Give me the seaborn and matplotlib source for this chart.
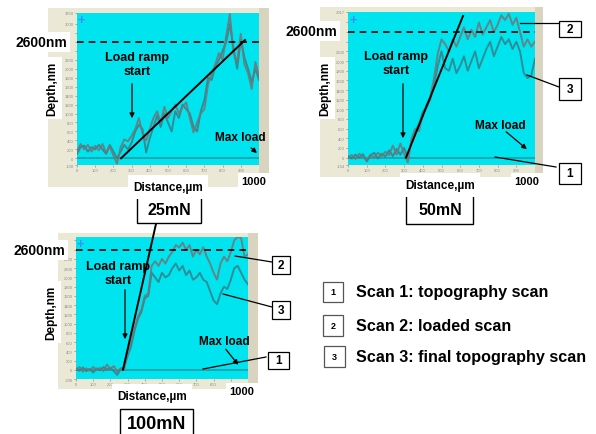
import matplotlib
matplotlib.use("Agg")
import matplotlib.pyplot as plt
import seaborn as sns
from matplotlib.patches import Rectangle

plt.rcParams['font.family'] = ['Liberation Sans', 'DejaVu Sans']

W, H = 596, 435

# ---------------- data ----------------
x_grid = list(range(0, 1001, 20))

p1_scan2 = [150, 320, 200, 300, 150, 280, 180, 320, 120, 260, 60, -120, 250, 420, 380, 500,
            650, 900, 550, 400, 650, 900, 1050, 800, 1150, 900, 1050, 1200, 1000, 1150, 1250,
            900, 580, 800, 1000, 1100, 1650, 1900, 2100, 2350, 2200, 2750, 3220, 2350, 2150,
            2780, 2100, 1900, 1550, 2150, 1850]
p1_scan3 = [100, 250, 280, 150, 250, 200, 300, 200, 100, 300, 150, 0, 150, 300, 200, 350,
            600, 750, 650, 130, 450, 700, 950, 700, 1000, 800, 600, 1050, 900, 1200, 1100,
            1000, 700, 600, 1050, 1300, 1800, 1750, 2050, 2200, 2400, 2600, 3000, 2450, 2000,
            2650, 2250, 2000, 1700, 2000, 1750]

p2_scan2 = [0, 50, -30, 80, 20, -60, 60, 0, 100, 30, 120, 50, 250, 60, 290, 80, -100, 400,
            600, 550, 900, 1100, 1250, 1650, 2150, 2450, 2350, 2200, 2450, 2300, 2500, 2700,
            2450, 2650, 2500, 2800, 2550, 2700, 2850, 2600, 2750, 2950, 2850, 2980, 2750, 2900,
            2600, 2300, 2450, 2300, 2400]
p2_scan3 = [30, -20, 60, 0, 70, -80, 40, 100, -20, 80, 20, 150, 30, 180, 60, 200, 0, 350,
            550, 700, 950, 1050, 1200, 1500, 1900, 2200, 1850, 1800, 2050, 1750, 1900, 2100,
            1800, 2000, 2200, 1850, 2050, 2250, 2400, 2100, 2300, 2500, 2350, 2450, 2250, 2400,
            2200, 1750, 1650, 1700, 2050]

p3_scan2 = [0, 60, -40, 30, -20, 60, 0, 40, -30, 110, 20, 80, -50, 30, 0, 400, 600, 900,
            1150, 1300, 1600, 1650, 2250, 2350, 2250, 2400, 2300, 2450, 2550, 2700, 2650, 2750,
            2600, 2700, 2450, 2600, 2500, 2650, 2450, 2300, 2100, 1950, 2300, 2450, 2350, 2550,
            2800, 2880, 2850, 2450, 2500]
p3_scan3 = [30, -20, 50, -30, 20, -60, 30, -10, 60, 0, 40, -30, -110, 20, 50, 300, 500, 850,
            1100, 1250, 1550, 1600, 2100, 2000, 1900, 2100, 2000, 2050, 2200, 2300, 2150, 2250,
            2050, 2150, 1950, 2000, 2100, 1950, 1900, 1700, 1500, 1420, 1650, 1800, 1750, 1950,
            2200, 2250, 2100, 1950, 1850]

scan1_x = [0, 1000]
scan1_y = [0, 0]

# load ramp reference lines (start and end points)
ramp1_x, ramp1_y = [242, 923], [0, 2642]
ramp2_x, ramp2_y = [310, 615], [0, 2935]
ramp3_x, ramp3_y = [273, 465], [0, 3157]

x_ticks = list(range(0, 1000, 100))
p1_ylim, p1_yticks = (-150, 3250), [-150] + list(range(0, 3001, 200)) + [3250]
p2_ylim, p2_yticks = (-154, 3017), [-154] + list(range(0, 2801, 200)) + [3017]
p3_ylim, p3_yticks = (-200, 2875), [-200] + list(range(0, 2801, 200))
# tick labels hidden behind the "2600nm" label in the original
p1_hidden = [2400, 2600, 2800]
p2_hidden = [2400, 2600, 2800]
p3_hidden = [2600, 2800]

forces = ["25mN", "50mN", "100mN"]
legend_labels = ["Scan 1: topography scan", "Scan 2: loaded scan", "Scan 3: final topography scan"]

# ---------------- figure ----------------
fig = plt.figure(figsize=(W / 100, H / 100), dpi=100)


def box(x0, y0, x1, y1):
    return [x0 / W, 1 - y1 / H, (x1 - x0) / W, (y1 - y0) / H]


bg = fig.add_axes([0, 0, 1, 1], zorder=-1)
bg.set_xlim(0, W); bg.set_ylim(H, 0); bg.axis('off')
ov = fig.add_axes([0, 0, 1, 1], zorder=5)
ov.set_xlim(0, W); ov.set_ylim(H, 0); ov.axis('off'); ov.patch.set_alpha(0)

beige = "#ebe8d6"
strip = "#d8d4bf"
frames = [(48, 9, 269, 188, 259), (320, 8, 543, 178, 535), (58, 234, 258, 390, 248)]
for fx0, fy0, fx1, fy1, sx in frames:
    bg.add_patch(Rectangle((fx0, fy0), fx1 - fx0, fy1 - fy0, facecolor=beige, edgecolor='none'))
    bg.add_patch(Rectangle((sx, fy0), fx1 - sx, fy1 - fy0, facecolor=strip, edgecolor='none'))

cyan = "#00e4f0"
c2 = "#6f7777"
c3 = "#357f86"
c1 = "#1ea2ab"

panels = [
    (box(77, 13.8, 259, 166), p1_scan2, p1_scan3, ramp1_x, ramp1_y, p1_ylim, p1_yticks, p1_hidden),
    (box(348, 13, 535, 166), p2_scan2, p2_scan3, ramp2_x, ramp2_y, p2_ylim, p2_yticks, p2_hidden),
    (box(76, 238, 248, 380), p3_scan2, p3_scan3, ramp3_x, ramp3_y, p3_ylim, p3_yticks, p3_hidden),
]
axes = []
for pos, s2, s3, rx, ry, ylim, yt, hid in panels:
    ax = fig.add_axes(pos, zorder=1)
    ax.set_facecolor(cyan)
    sns.lineplot(x=scan1_x, y=scan1_y, ax=ax, color=c1, linewidth=1.3)
    sns.lineplot(x=x_grid, y=s3, ax=ax, color=c3, linewidth=1.4, alpha=0.85)
    sns.lineplot(x=x_grid, y=s2, ax=ax, color=c2, linewidth=1.4, alpha=0.85)
    ax.axhline(2600, color='black', linestyle='--', linewidth=1.2, dashes=(4, 3))
    ax.plot(rx, ry, color='black', linewidth=1.4, clip_on=False)
    ax.set_xlim(0, 1000)
    ax.set_ylim(*ylim)
    ax.set_xticks(x_ticks)
    ax.set_xticklabels([str(v) for v in x_ticks])
    ax.set_yticks(yt)
    ax.set_yticklabels(["" if v in hid else str(v) for v in yt])
    ax.tick_params(labelsize=3, colors='#8c8c8c', length=1.5, width=0.5, pad=1)
    for s in ax.spines.values():
        s.set_visible(False)
    ax.set_xlabel(""); ax.set_ylabel("")
    ax.text(0.025, 0.95, "+", transform=ax.transAxes, color="#3a8ff0", fontsize=9,
            ha='center', va='center', fontweight='bold')
    axes.append(ax)

wb = dict(facecolor='white', edgecolor='none', pad=2.5)
bold = dict(fontweight='bold', color='black')

# text per panel: 2600nm, Depth, Load ramp, Max load, Distance, 1000, force box
texts = [
    dict(nm=(41, 43), dep=(52, 89), load=(137, 65), arr_load=((132, 82), (132, 122)),
         maxl=(240, 138), arr_max=((249, 147), (259, 156)), dist=(168, 188), k=(254, 182),
         fbox=(137, 197, 201, 224), ftxt=(169, 211), fsize=11.5),
    dict(nm=(311, 32), dep=(325, 89), load=(396, 64), arr_load=((403, 82), (403, 142)),
         maxl=(500, 126), arr_max=((504, 131), (529, 152)), dist=(440, 186), k=(527, 182),
         fbox=(406, 195, 473, 225), ftxt=(440, 211), fsize=11.5),
    dict(nm=(39, 251), dep=(51, 313), load=(118, 274), arr_load=((125, 288), (125, 343)),
         maxl=(224, 342), arr_max=((224, 348), (240, 368)), dist=(152, 397), k=(242, 392),
         fbox=(120, 410, 193, 436), ftxt=(157, 425), fsize=13),
]
for t, f in zip(texts, forces):
    ov.text(*t['nm'], "2600nm", fontsize=10, ha='center', va='center', bbox=wb, **bold)
    ov.text(*t['dep'], "Depth,nm", fontsize=8.5, rotation=90, ha='center', va='center',
            bbox=dict(facecolor='white', edgecolor='none', pad=3), **bold)
    ov.text(*t['load'], "Load ramp\nstart", fontsize=9, ha='center', va='center',
            linespacing=1.15, **bold)
    ov.annotate("", xy=t['arr_load'][1], xytext=t['arr_load'][0],
                arrowprops=dict(arrowstyle='-|>', color='black', lw=0.9, mutation_scale=7))
    ov.text(*t['maxl'], "Max load", fontsize=8.5, ha='center', va='center', **bold)
    ov.annotate("", xy=t['arr_max'][1], xytext=t['arr_max'][0],
                arrowprops=dict(arrowstyle='-|>', color='black', lw=0.9, mutation_scale=7))
    ov.text(*t['dist'], "Distance,µm", fontsize=8.5, ha='center', va='center',
            bbox=dict(facecolor='white', edgecolor='none', pad=4), **bold)
    ov.text(*t['k'], "1000", fontsize=8, ha='center', va='center', bbox=wb, **bold)
    x0, y0, x1, y1 = t['fbox']
    ov.add_patch(Rectangle((x0, y0), x1 - x0, y1 - y0, facecolor='white', edgecolor='black',
                           linewidth=1.0, clip_on=False))
    ov.text(*t['ftxt'], f, fontsize=t['fsize'], ha='center', va='center', **bold)

# numbered label boxes with leader lines
labels = [
    ("2", (559, 22, 581, 38), ((520, 24), (559, 24))),
    ("3", (559, 79, 581, 101), ((527, 76), (559, 88))),
    ("1", (559, 164, 581, 185), ((495, 158), (556, 168))),
    ("2", (272, 257, 290, 275), ((235, 257), (272, 263))),
    ("3", (272, 302, 290, 320), ((223, 295), (272, 308))),
    ("1", (268, 353, 289, 370), ((203, 370), (266, 358))),
]
for n, (x0, y0, x1, y1), (p, q) in labels:
    ov.plot([p[0], q[0]], [p[1], q[1]], color='black', linewidth=0.9)
    ov.add_patch(Rectangle((x0, y0), x1 - x0, y1 - y0, facecolor='white', edgecolor='black',
                           linewidth=0.9))
    ov.text((x0 + x1) / 2, (y0 + y1) / 2, n, fontsize=8.5, ha='center', va='center', **bold)

# legend
leg_boxes = [(323, 283, 343, 303), (323, 316, 343, 337), (324, 347, 345, 368)]
for (x0, y0, x1, y1), lab, n in zip(leg_boxes, legend_labels, ["1", "2", "3"]):
    ov.add_patch(Rectangle((x0, y0), x1 - x0, y1 - y0, facecolor='white', edgecolor='#555555',
                           linewidth=0.9))
    ov.text((x0 + x1) / 2, (y0 + y1) / 2, n, fontsize=6.5, ha='center', va='center', **bold)
    ov.text(356, (y0 + y1) / 2, lab, fontsize=11.6, ha='left', va='center', **bold)

fig.savefig("out.png", dpi=100)
